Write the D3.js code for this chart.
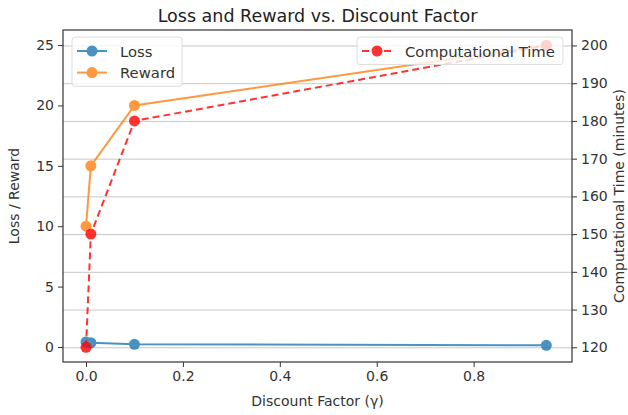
<!DOCTYPE html>
<html>
<head>
<meta charset="utf-8">
<script src="https://cdn.jsdelivr.net/npm/d3@7"></script>
<style>
  body { margin: 0; background: #fff; }
  svg { font-family: "DejaVu Sans", sans-serif; }
  .axis path, .axis line { stroke: #333; }
  .axis-title { font-size: 14px; fill: #333; }
  .legend-text { font-size: 14.8px; fill: #333; }
</style>
</head>
<body>
<svg id="chart" width="628" height="415"></svg>
<script>
const width = 628;
const height = 415;

// data
const discount = [0.0, 0.01, 0.1, 0.95];
const loss = [0.42, 0.35, 0.22, 0.14];
const reward = [10, 15, 20, 25];
const compTime = [120, 150, 180, 200];

const xTicks = [0.0, 0.2, 0.4, 0.6, 0.8];
const leftTicks = [0, 5, 10, 15, 20, 25];
const rightTicks = [120, 130, 140, 150, 160, 170, 180, 190, 200];

const margin = { top: 30, bottom: 53, left: 63, right: 56 };

const blue = "#1f77b4";
const orange = "#ff7f0e";
const red = "#ff0000";

let svg = d3.select("svg#chart");
const plotWidth = width - margin.left - margin.right;
const plotHeight = height - margin.top - margin.bottom;

const plot = svg.append("g").attr("transform", translate(margin.left, margin.top));

/* SCALES */
let xScale = d3.scaleLinear().domain([-0.0475, 1.003]).range([0, plotWidth]);
let leftScale = d3.scaleLinear().domain([-1.245, 26.25]).range([plotHeight, 0]);
let rightScale = d3.scaleLinear().domain([116.1, 204.1]).range([plotHeight, 0]);

/* GRID (from the twin axis) */
plot.append("g")
  .attr("class", "grid")
  .call(d3.axisRight(rightScale).tickValues(rightTicks).tickSize(plotWidth).tickFormat(""))
  .call(g => g.select(".domain").remove())
  .call(g => g.selectAll("line").attr("stroke", "#c8c8c8").attr("stroke-width", 1));

/* LINES */
function drawSeries(values, yScale, color, dashed) {
  let pts = discount.map((d, i) => [d, values[i]]);
  let line = d3.line().x(d => xScale(d[0])).y(d => yScale(d[1]));
  let g = plot.append("g").attr("opacity", 0.8);
  g.append("path")
    .datum(pts)
    .attr("d", line)
    .attr("fill", "none")
    .attr("stroke", color)
    .attr("stroke-width", 2)
    .attr("stroke-dasharray", dashed ? "7,4" : null);
  g.selectAll("circle")
    .data(pts)
    .enter()
    .append("circle")
      .attr("cx", d => xScale(d[0]))
      .attr("cy", d => yScale(d[1]))
      .attr("r", 5.5)
      .attr("fill", color);
}

drawSeries(loss, leftScale, blue, false);
drawSeries(reward, leftScale, orange, false);
drawSeries(compTime, rightScale, red, true);

/* AXES */
let xGroup = plot.append("g").attr("class", "axis")
  .attr("transform", translate(0, plotHeight))
  .call(d3.axisBottom(xScale).tickValues(xTicks).tickFormat(d3.format(".1f")).tickSizeOuter(0).tickSize(5).tickPadding(4));
let yGroup = plot.append("g").attr("class", "axis")
  .call(d3.axisLeft(leftScale).tickValues(leftTicks).tickSizeOuter(0).tickSize(5).tickPadding(4));
let y2Group = plot.append("g").attr("class", "axis")
  .attr("transform", translate(plotWidth, 0))
  .call(d3.axisRight(rightScale).tickValues(rightTicks).tickSizeOuter(0).tickSize(5).tickPadding(4));
[xGroup, yGroup, y2Group].forEach(g => g.select(".domain").remove());
plot.selectAll(".axis text")
  .attr("font-family", "DejaVu Sans")
  .attr("font-size", 14)
  .attr("fill", "#333");

// frame
plot.append("rect")
  .attr("width", plotWidth)
  .attr("height", plotHeight)
  .attr("fill", "none")
  .attr("stroke", "#333")
  .attr("stroke-width", 1.2);

/* TITLES */
svg.append("text")
  .attr("x", margin.left + plotWidth / 2)
  .attr("y", 22)
  .attr("text-anchor", "middle")
  .style("font-size", "17.5px")
  .style("fill", "#222")
  .text("Loss and Reward vs. Discount Factor");

svg.append("text")
  .attr("class", "axis-title")
  .attr("x", margin.left + plotWidth / 2)
  .attr("y", 406)
  .attr("text-anchor", "middle")
  .text("Discount Factor (\u03b3)");

svg.append("text")
  .attr("class", "axis-title")
  .attr("transform", translate(19, margin.top + plotHeight / 2) + " rotate(-90)")
  .attr("text-anchor", "middle")
  .text("Loss / Reward");

svg.append("text")
  .attr("class", "axis-title")
  .attr("transform", translate(624, margin.top + plotHeight / 2) + " rotate(-90)")
  .attr("text-anchor", "middle")
  .text("Computational Time (minutes)");

/* LEGENDS */
function legend(x, y, w, entries) {
  let g = svg.append("g").attr("transform", translate(x, y));
  g.append("rect")
    .attr("width", w)
    .attr("height", entries.length * 21.6 + 6)
    .attr("rx", 3)
    .attr("fill", "#fff")
    .attr("fill-opacity", 0.8)
    .attr("stroke", "#ddd");
  entries.forEach((e, i) => {
    let cy = 14 + i * 21.6;
    let row = g.append("g").attr("opacity", 0.8);
    row.append("line")
      .attr("x1", 5).attr("x2", 35).attr("y1", cy).attr("y2", cy)
      .attr("stroke", e.color).attr("stroke-width", 2)
      .attr("stroke-dasharray", e.dashed ? "7,4" : null);
    row.append("circle").attr("cx", 20).attr("cy", cy).attr("r", 5.5).attr("fill", e.color);
    g.append("text")
      .attr("class", "legend-text")
      .attr("x", 48)
      .attr("y", cy + 5.5)
      .text(e.label);
  });
}

legend(72, 37, 110, [
  { label: "Loss", color: blue },
  { label: "Reward", color: orange }
]);
legend(357, 37, 206, [
  { label: "Computational Time", color: red, dashed: true }
]);

function translate(x, y) {
  return "translate(" + String(x) + "," + String(y) + ")";
}
</script>
</body>
</html>
